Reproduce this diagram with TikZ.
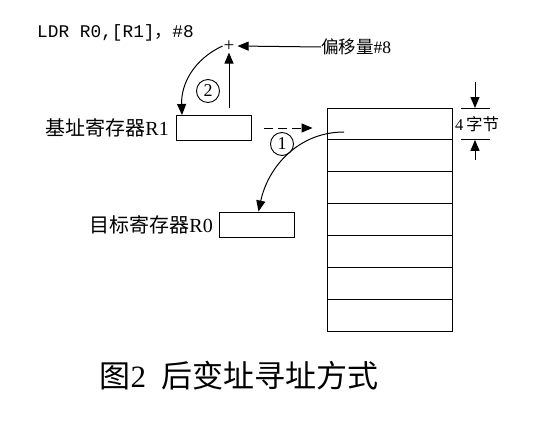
\documentclass[tikz,border=0pt]{standalone}
\usepackage{fontspec}
\setmainfont{Liberation Serif}
\setmonofont{Liberation Mono}
\newfontfamily\cjk{Noto Sans CJK SC}
\usetikzlibrary{arrows.meta}
\tikzstyle{reg}=[draw, line width=1pt, minimum width=75pt, minimum height=25pt, inner sep=0pt]
\tikzstyle{cell}=[draw, line width=1pt, minimum width=125pt, minimum height=31.86pt, inner sep=0pt]
\tikzstyle{stepnum}=[circle, draw, line width=0.9pt, minimum size=23pt, inner sep=0pt, font=\fontsize{18}{18}\selectfont]
\tikzstyle{lbl}=[inner sep=0pt, font=\fontsize{20}{20}\selectfont]
\tikzstyle{arr}=[-{Triangle[length=11pt,width=9pt]}, line width=1pt]

\begin{document}
\begin{tikzpicture}[x=1pt, y=-1pt]
                    \useasboundingbox (0,0) rectangle (539,421);
                    % instruction and offset
                    \node[anchor=west, inner sep=0pt, font=\ttfamily\fontsize{17.8}{17.8}\selectfont] (ldr) at (37,33) {LDR R0,[R1]{\cjk ，}\#8};
                    \node[inner sep=1pt, font=\fontsize{19}{19}\selectfont] (plus) at (229,46) {+};
                    \node[lbl, anchor=west, font=\fontsize{17.5}{17.5}\selectfont] (offset) at (321,47) {{\cjk 偏移量}\#8};
                    % registers
                    \node[reg] (base) at (214,128) {};
                    \node[lbl, anchor=east] (baselbl) at (169,128) {{\cjk 基址寄存器}R1};
                    \node[reg] (target) at (256.5,224.5) {};
                    \node[lbl, anchor=east] (targetlbl) at (213,225) {{\cjk 目标寄存器}R0};
                    % memory
                    \foreach \i in {1,...,7}
                        \node[cell] (c\i) at (389.5, 108+31.86*\i-15.93) {};
                    % steps
                    \node[stepnum] (s2) at (208,91) {2};
                    \node[stepnum] (s1) at (282,144) {1};
                    \coordinate (upstart) at (229,108);
                    \coordinate (readpt) at (344,132);
                    \draw[arr] (offset.west) -- ([xshift=2pt]plus.east);
                    \draw[arr] (upstart) -- (plus.south);
                    \draw[arr] (plus.west) to[out=205, in=92] ([xshift=6pt]base.north west);
                    \draw[arr, dash pattern=on 9pt off 5pt] ([xshift=12pt]base.east) -- ([xshift=-14pt]base.east -| c1.west);
                    \draw[arr] (readpt) to[out=180, in=78] ([xshift=2pt]target.north);
                    % size of one word
                    \coordinate (wtop) at (475,82);
                    \coordinate (wbot) at (475,160);
                    \draw[line width=1pt] (461,108) -- (490,108);
                    \draw[line width=1pt] (461,139.9) -- (490,139.9);
                    \draw[arr] (wtop) -- (475,108);
                    \draw[arr] (wbot) -- (475,139.9);
                    \node[inner sep=0pt, font=\fontsize{16.5}{16.5}\selectfont, fill=white] (word) at (477,124.5) {4\,{\cjk 字节}};
                    % caption
                    \node[inner sep=0pt, font=\fontsize{31}{31}\selectfont] (caption) at (239,376) {{\cjk 图}2\hspace{0.5em}{\cjk 后变址寻址方式}};
                \end{tikzpicture}
\end{document}
